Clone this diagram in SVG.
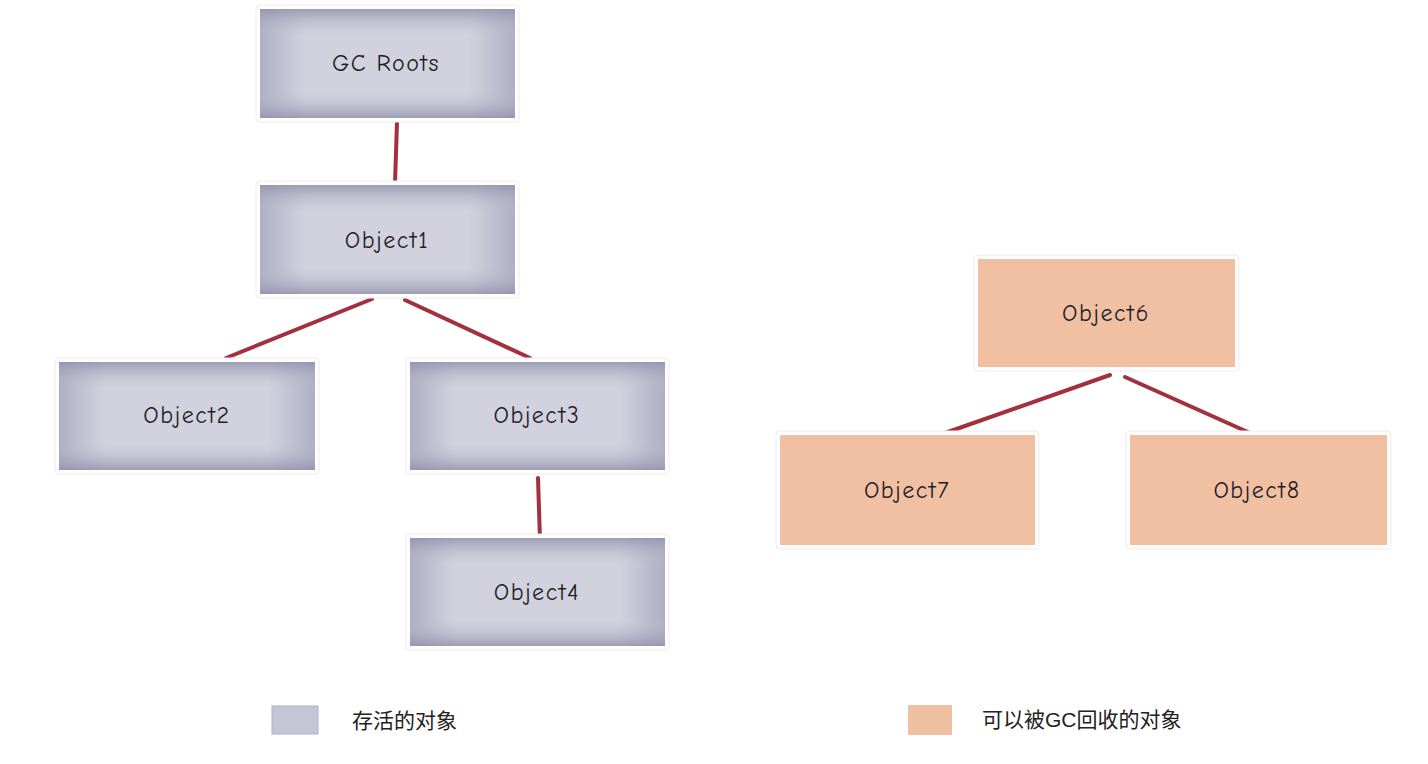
<svg xmlns="http://www.w3.org/2000/svg" width="1428" height="764" viewBox="0 0 1428 764">
<style>
.lbl{font-family:"Comic Neue","DejaVu Sans","Liberation Sans",sans-serif;font-size:24px;letter-spacing:1.5px;fill:#1e1e28;text-anchor:middle;dominant-baseline:central}
.leg{font-family:"Liberation Sans","Noto Sans CJK SC",sans-serif;font-size:21px;fill:#222;dominant-baseline:central}
.link{stroke:#a3303c;stroke-width:4;stroke-linecap:round;fill:none}
.live{fill:url(#gh)}
.liveOv{fill:url(#gv)}
.dead{fill:#f1c0a3}
.frame{fill:#fff;stroke:#ececf0;stroke-width:1}
</style>
<defs>
<linearGradient id="gh" x1="0" y1="0" x2="1" y2="0">
<stop offset="0" stop-color="#9c9db6"/>
<stop offset="0.18" stop-color="#cfcfdc"/>
<stop offset="0.82" stop-color="#cfcfdc"/>
<stop offset="1" stop-color="#9c9db6"/>
</linearGradient>
<linearGradient id="gv" x1="0" y1="0" x2="0" y2="1">
<stop offset="0" stop-color="#9496ae" stop-opacity="0.85"/>
<stop offset="0.25" stop-color="#d9d9e4" stop-opacity="0.3"/>
<stop offset="0.75" stop-color="#d9d9e4" stop-opacity="0.3"/>
<stop offset="1" stop-color="#9496ae" stop-opacity="0.85"/>
</linearGradient>
</defs>
<rect width="1428" height="764" fill="#fff"/>
<g id="connectors">
<line class="link" x1="397" y1="122" x2="395" y2="183"/>
<line class="link" x1="372" y1="299" x2="226" y2="358"/>
<line class="link" x1="405" y1="300" x2="530" y2="358"/>
<line class="link" x1="538" y1="478" x2="540" y2="540"/>
<line class="link" x1="1110" y1="375" x2="945" y2="433"/>
<line class="link" x1="1125" y1="377" x2="1250" y2="433"/>
</g>
<g id="gcroots">
<rect class="frame" x="256" y="5" width="263" height="117" rx="4"/>
<rect class="live" x="260" y="9" width="255" height="109"/>
<rect class="liveOv" x="260" y="9" width="255" height="109"/>
<text class="lbl" x="386" y="63">GC Roots</text>
</g>
<g id="object1">
<rect class="frame" x="256" y="181" width="263" height="117" rx="4"/>
<rect class="live" x="260" y="185" width="255" height="109"/>
<rect class="liveOv" x="260" y="185" width="255" height="109"/>
<text class="lbl" x="387" y="240">Object1</text>
</g>
<g id="object2">
<rect class="frame" x="55" y="358" width="264" height="116" rx="4"/>
<rect class="live" x="59" y="362" width="256" height="108"/>
<rect class="liveOv" x="59" y="362" width="256" height="108"/>
<text class="lbl" x="187" y="415">Object2</text>
</g>
<g id="object3">
<rect class="frame" x="406" y="358" width="263" height="116" rx="4"/>
<rect class="live" x="410" y="362" width="255" height="108"/>
<rect class="liveOv" x="410" y="362" width="255" height="108"/>
<text class="lbl" x="537" y="415">Object3</text>
</g>
<g id="object4">
<rect class="frame" x="406" y="534" width="263" height="116" rx="4"/>
<rect class="live" x="410" y="538" width="255" height="108"/>
<rect class="liveOv" x="410" y="538" width="255" height="108"/>
<text class="lbl" x="537" y="592">Object4</text>
</g>
<g id="object6">
<rect class="frame" x="974" y="255" width="265" height="116" rx="4"/>
<rect class="dead" x="978" y="259" width="257" height="108"/>
<text class="lbl" x="1106" y="313">Object6</text>
</g>
<g id="object7">
<rect class="frame" x="776" y="431" width="263" height="118" rx="4"/>
<rect class="dead" x="780" y="435" width="255" height="110"/>
<text class="lbl" x="907" y="490">Object7</text>
</g>
<g id="object8">
<rect class="frame" x="1126" y="431" width="265" height="118" rx="4"/>
<rect class="dead" x="1130" y="435" width="257" height="110"/>
<text class="lbl" x="1257" y="490">Object8</text>
</g>
<g id="legend-live">
<rect x="272" y="706" width="46" height="28" fill="#c4c5d6" stroke="#b0b1c4" stroke-width="1"/>
<text class="leg" x="352" y="720">存活的对象</text>
</g>
<g id="legend-dead">
<rect x="908" y="705" width="44" height="30" fill="#efbfa2"/>
<text class="leg" x="982" y="719">可以被GC回收的对象</text>
</g>
</svg>
